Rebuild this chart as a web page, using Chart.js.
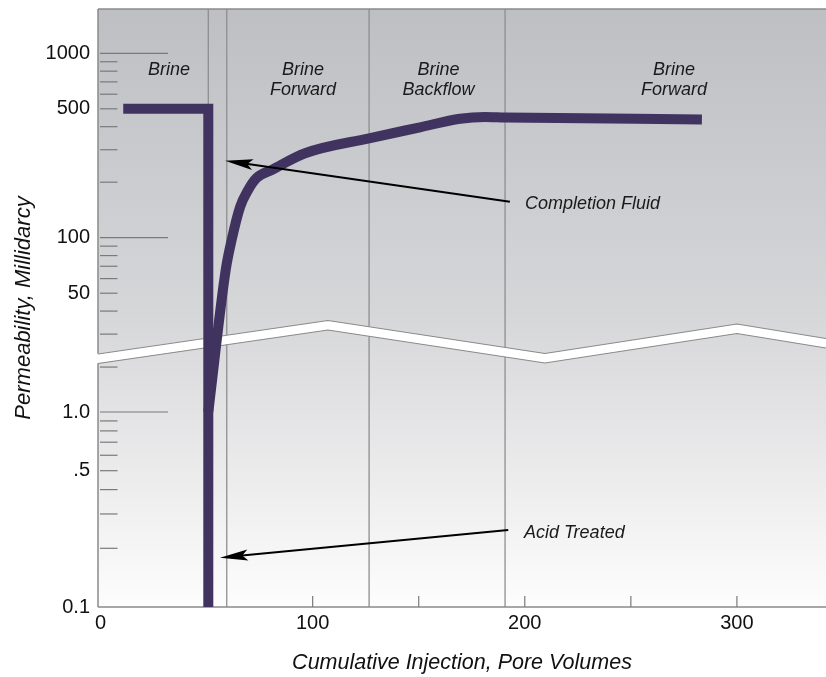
<!DOCTYPE html>
<html><head><meta charset="utf-8">
<script src="https://cdn.jsdelivr.net/npm/chart.js@4.4.1/dist/chart.umd.min.js"></script>
<style>html,body{margin:0;padding:0;background:#fff;} #wrap{width:826px;height:677px;position:relative;}</style>
</head><body><div id="wrap"><canvas id="c"></canvas></div>
<script>
// ---------------- data ----------------
const completionX = [10.7, 50.8, 50.8];
const completionY = [500, 500, 0.1];
const acidX = [50.8, 59.0, 61.8, 65.8, 69.5, 73.6, 80.7, 96.4, 126.6, 150.6, 169.5, 181.2, 190.7, 283.5];
const acidY = [1.0, 66.8, 97.2, 147, 181, 211, 233, 287, 346, 397, 442, 452, 449, 438];
const yLabelValues = [0.1, 0.5, 1.0, 50, 100, 500, 1000];
const yLabels = ['0.1', '.5', '1.0', '50', '100', '500', '1000'];
const yMajorValues = [1.0, 100, 1000];
const yMinorValues = [0.2, 0.3, 0.4, 0.5, 0.6, 0.7, 0.8, 0.9, 1.7, 30, 40, 50, 60, 70, 80, 90, 200, 300, 400, 500, 600, 700, 800, 900];
const xLabelValues = [0, 100, 200, 300];
const xMinorValues = [50, 100, 150, 200, 250, 300];
const phaseBoundaries = [50.8, 59.5, 126.6, 190.7];
const phaseNames = [['Brine'], ['Brine', 'Forward'], ['Brine', 'Backflow'], ['Brine', 'Forward']];
const phaseLabelX = [32.3, 95.5, 159.3, 270.4];
const phaseLineY = [762, 594];
const noteTexts = ['Completion Fluid', 'Acid Treated'];
const noteX = [200.1, 199.6];
const noteY = [143, 0.226];
const arrowTailX = [193.0, 192.2];
const arrowTailY = [156.8, 0.248];
const arrowTipX = [58.7, 56.3];
const arrowTipY = [261.6, 0.179];
const breakX = [-1.2, 107.2, 209.5, 300.0, 342];
const breakTopU = [253, 286.5, 253.5, 283, 268.5];

// ---------------- broken log axis transform ----------------
const LOW_DEC = 195, UP_DEC = 184.4, UP_100 = 369.3, Y_TOP = 598;
const BRK_LO = 2, BRK_HI = 25, BREAK_GAP = 9.5;
function lowerU(v) { return (Math.log10(v) + 1) * LOW_DEC; }
function upperU(v) { return UP_100 + (Math.log10(v) - 2) * UP_DEC; }
function T(v) {
  if (v <= BRK_LO) return lowerU(v);
  if (v >= BRK_HI) return upperU(v);
  const f = (Math.log10(v) - Math.log10(BRK_LO)) / (Math.log10(BRK_HI) - Math.log10(BRK_LO));
  return lowerU(BRK_LO) + f * (upperU(BRK_HI) - lowerU(BRK_LO));
}

const PURPLE = '#41335f';
const FONT = "'Liberation Sans', Arial, sans-serif";

function drawArrow(ctx, sx, sy, tx, ty, len, hw) {
  const ang = Math.atan2(ty - sy, tx - sx);
  const dx = Math.cos(ang), dy = Math.sin(ang);
  const px = -dy, py = dx;
  ctx.beginPath();
  ctx.moveTo(sx, sy);
  ctx.lineTo(tx - dx * len * 0.7, ty - dy * len * 0.7);
  ctx.stroke();
  ctx.beginPath();
  ctx.moveTo(tx, ty);
  ctx.lineTo(tx - dx * len + px * hw, ty - dy * len + py * hw);
  ctx.lineTo(tx - dx * len * 0.8, ty - dy * len * 0.8);
  ctx.lineTo(tx - dx * len - px * hw, ty - dy * len - py * hw);
  ctx.closePath();
  ctx.fill();
}

const decor = {
  id: 'decor',
  beforeDraw(chart) {
    const { ctx, chartArea: a } = chart;
    ctx.save();
    ctx.fillStyle = '#fff';
    ctx.fillRect(0, 0, chart.width, chart.height);
    const g = ctx.createLinearGradient(0, a.top, 0, a.bottom);
    g.addColorStop(0, '#bebfc3');
    g.addColorStop(0.5, '#d5d6d8');
    g.addColorStop(0.62, '#dfdfe1');
    g.addColorStop(1, '#fdfdfd');
    ctx.fillStyle = g;
    ctx.fillRect(a.left, a.top, a.right - a.left, a.bottom - a.top);
    ctx.restore();
  },
  beforeDatasetsDraw(chart) {
    const { ctx, chartArea: a, scales: { x, y } } = chart;
    ctx.save();
    const line = (x1, y1, x2, y2) => { ctx.beginPath(); ctx.moveTo(x1, y1); ctx.lineTo(x2, y2); ctx.stroke(); };
    ctx.strokeStyle = '#8e8e8e'; ctx.lineWidth = 1.3;
    phaseBoundaries.forEach(v => { const px = x.getPixelForValue(v); line(px, a.top, px, a.bottom); });
    ctx.strokeStyle = '#8a8a8a'; ctx.lineWidth = 1.5;
    line(a.left, a.top, a.right, a.top);
    line(a.left, a.top, a.left, a.bottom);
    line(a.left, a.bottom, a.right, a.bottom);
    ctx.strokeStyle = '#7a7a7a'; ctx.lineWidth = 1.2;
    yMajorValues.forEach(v => { const py = y.getPixelForValue(T(v)); line(a.left + 2, py, a.left + 70, py); });
    yMinorValues.forEach(v => { const py = y.getPixelForValue(T(v)); line(a.left + 2, py, a.left + 19.5, py); });
    xMinorValues.forEach(v => { const px = x.getPixelForValue(v); line(px, a.bottom, px, a.bottom - 11); });
    // axis break band
    const topPts = breakX.map((bx, i) => [x.getPixelForValue(bx), y.getPixelForValue(breakTopU[i])]);
    const botPts = breakX.map((bx, i) => [x.getPixelForValue(bx), y.getPixelForValue(breakTopU[i] - BREAK_GAP)]);
    ctx.fillStyle = '#ffffff';
    ctx.beginPath();
    topPts.forEach((p, i) => i ? ctx.lineTo(p[0], p[1]) : ctx.moveTo(p[0] - 2, p[1]));
    for (let i = botPts.length - 1; i >= 0; i--) ctx.lineTo(botPts[i][0] - (i ? 0 : 2), botPts[i][1]);
    ctx.closePath();
    ctx.fill();
    ctx.strokeStyle = '#8a8a8a'; ctx.lineWidth = 1.2;
    [topPts, botPts].forEach(pts => {
      ctx.beginPath();
      pts.forEach((p, i) => i ? ctx.lineTo(p[0], p[1]) : ctx.moveTo(p[0], p[1]));
      ctx.stroke();
    });
    ctx.restore();
  },
  afterDatasetsDraw(chart) {
    const { ctx, scales: { x, y } } = chart;
    ctx.save();
    ctx.fillStyle = '#1a1a1a';
    ctx.font = 'italic 18px ' + FONT;
    ctx.textAlign = 'center';
    ctx.textBaseline = 'alphabetic';
    phaseNames.forEach((lines, i) => {
      lines.forEach((t, j) => ctx.fillText(t, x.getPixelForValue(phaseLabelX[i]), y.getPixelForValue(T(phaseLineY[j]))));
    });
    ctx.textAlign = 'left';
    noteTexts.forEach((t, i) => ctx.fillText(t, x.getPixelForValue(noteX[i]), y.getPixelForValue(T(noteY[i]))));
    ctx.strokeStyle = '#000'; ctx.fillStyle = '#000'; ctx.lineWidth = 2;
    for (let i = 0; i < arrowTipX.length; i++) {
      drawArrow(ctx,
        x.getPixelForValue(arrowTailX[i]), y.getPixelForValue(T(arrowTailY[i])),
        x.getPixelForValue(arrowTipX[i]), y.getPixelForValue(T(arrowTipY[i])), 28, 5.5);
    }
    ctx.restore();
  }
};

new Chart(document.getElementById('c'), {
  type: 'scatter',
  data: {
    datasets: [
      {
        label: 'Completion Fluid',
        data: completionX.map((v, i) => ({ x: v, y: T(completionY[i]) })),
        showLine: true, borderColor: PURPLE, backgroundColor: PURPLE, borderWidth: 10,
        pointRadius: 0, tension: 0, borderJoinStyle: 'miter', borderCapStyle: 'butt', fill: false
      },
      {
        label: 'Acid Treated',
        data: acidX.map((v, i) => ({ x: v, y: T(acidY[i]) })),
        showLine: true, borderColor: PURPLE, backgroundColor: PURPLE, borderWidth: 10,
        pointRadius: 0, cubicInterpolationMode: 'monotone', borderJoinStyle: 'round', borderCapStyle: 'butt', fill: false
      }
    ]
  },
  options: {
    responsive: true, maintainAspectRatio: false, animation: false,
    layout: { padding: { top: 9, left: 0, right: 0, bottom: 0 } },
    plugins: { legend: { display: false }, tooltip: { enabled: false } },
    scales: {
      x: {
        type: 'linear', min: -1.2, max: 342,
        grid: { display: false, drawTicks: false }, border: { display: false },
        afterBuildTicks: ax => { ax.ticks = xLabelValues.map(v => ({ value: v })); },
        ticks: { autoSkip: false, maxRotation: 0, padding: 4, color: '#111', font: { family: FONT, size: 20 }, callback: v => String(v) },
        title: { display: true, text: 'Cumulative Injection, Pore Volumes', color: '#111', font: { family: FONT, size: 21.5, style: 'italic' }, padding: { top: 0, bottom: 1 } },
        afterFit: ax => { ax.height = 70; ax.paddingLeft = 0; ax.paddingRight = 0; }
      },
      y: {
        type: 'linear', min: 0, max: Y_TOP,
        grid: { display: false, drawTicks: false }, border: { display: false },
        afterBuildTicks: ax => { ax.ticks = yLabelValues.map(v => ({ value: T(v) })); },
        ticks: { autoSkip: false, padding: 8, color: '#111', font: { family: FONT, size: 20 }, callback: (v, i) => yLabels[i] },
        title: { display: true, text: 'Permeability, Millidarcy', color: '#111', font: { family: FONT, size: 22, style: 'italic' }, padding: { top: 11, bottom: 0 } },
        afterFit: ax => { ax.width = 98; ax.paddingTop = 0; ax.paddingBottom = 0; }
      }
    }
  },
  plugins: [decor]
});
</script>
</body></html>
